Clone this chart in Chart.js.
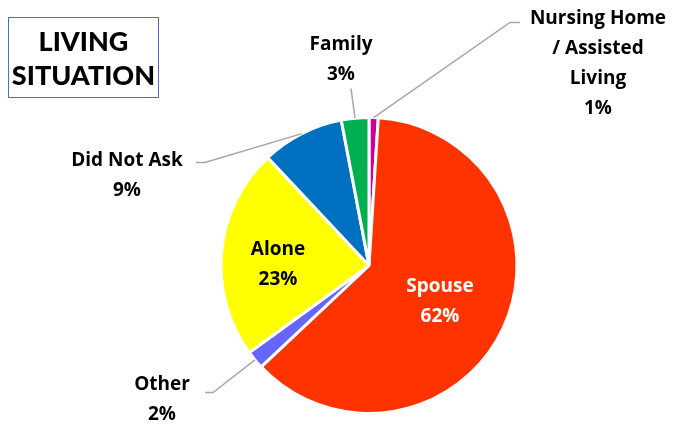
<!DOCTYPE html>
<html>
<head>
<meta charset="utf-8">
<script src="https://cdn.jsdelivr.net/npm/chart.js@4"></script>
<style>
    html, body { margin: 0; padding: 0; background: #fff; }
    #wrap { position: relative; width: 678px; height: 427px; }
    #title-box {
        position: absolute; left: 8px; top: 17px; width: 151px; height: 81px;
        border: 1.5px solid #4472C4; box-sizing: border-box;
        font-family: Lato, "Open Sans", sans-serif; font-weight: 900; font-size: 27px;
        line-height: 34px; text-align: center; padding-top: 6px; color: #000;
    }
</style>
</head>
<body>
<div id="wrap">
    <canvas id="pie" width="678" height="427"></canvas>
    <div id="title-box">LIVING<br>SITUATION</div>
</div>
<script>
const categories = ["Nursing Home / Assisted Living", "Spouse", "Other", "Alone", "Did Not Ask", "Family"];
const labelLines = [["Nursing Home", "/ Assisted", "Living"], ["Spouse"], ["Other"], ["Alone"], ["Did Not Ask"], ["Family"]];
const percents = [1, 62, 2, 23, 9, 3];
const colors = ['#CC0099', '#FF3300', '#6666FF', '#FFFF00', '#0070C0', '#00B050'];

// label placement relative to pie centre: text centre, optional elbow for leader line
const labelLayout = [
    { x: 229, y: -202, elbow: [141, -243], end: [151, -243] },
    { x: 71, y: 36, inside: true, color: '#fff' },
    { x: -207, y: 134, elbow: [-156, 127], end: [-164, 127] },
    { x: -91, y: -1, inside: true },
    { x: -242, y: -90, elbow: [-164, -103], end: [-173, -103] },
    { x: -28, y: -206, elbow: [-18, -177], end: [-18, -177] }
];

const labelPlugin = {
    id: 'pieLabels',
    afterDatasetsDraw(chart) {
        const ctx = chart.ctx;
        const arcs = chart.getDatasetMeta(0).data;
        ctx.save();
        ctx.font = 'bold 19px "Open Sans", Lato, sans-serif';
        ctx.textAlign = 'center';
        ctx.textBaseline = 'middle';
        arcs.forEach((arc, i) => {
            const lay = labelLayout[i];
            const cx = arc.x, cy = arc.y;
            if (lay.elbow) {
                const mid = (arc.startAngle + arc.endAngle) / 2;
                const sx = cx + Math.cos(mid) * arc.outerRadius;
                const sy = cy + Math.sin(mid) * arc.outerRadius;
                ctx.strokeStyle = '#A6A6A6';
                ctx.lineWidth = 1.5;
                ctx.beginPath();
                ctx.moveTo(sx, sy);
                ctx.lineTo(cx + lay.elbow[0], cy + lay.elbow[1]);
                ctx.lineTo(cx + lay.end[0], cy + lay.end[1]);
                ctx.stroke();
            }
            const lines = labelLines[i].concat([percents[i] + '%']);
            const lh = 30;
            const top = cy + lay.y - (lines.length - 1) * lh / 2;
            ctx.fillStyle = lay.color || '#000';
            lines.forEach((t, j) => ctx.fillText(t, cx + lay.x, top + j * lh));
        });
        ctx.restore();
    }
};

new Chart(document.getElementById('pie'), {
    type: 'pie',
    data: {
        labels: categories,
        datasets: [{
            data: percents,
            backgroundColor: colors,
            borderColor: '#fff',
            borderWidth: 3
        }]
    },
    options: {
        responsive: false,
        animation: false,
        layout: { padding: { top: 116, bottom: 12, left: 110, right: 50 } },
        plugins: {
            legend: { display: false },
            tooltip: { enabled: false }
        }
    },
    plugins: [labelPlugin]
});
</script>
</body>
</html>
